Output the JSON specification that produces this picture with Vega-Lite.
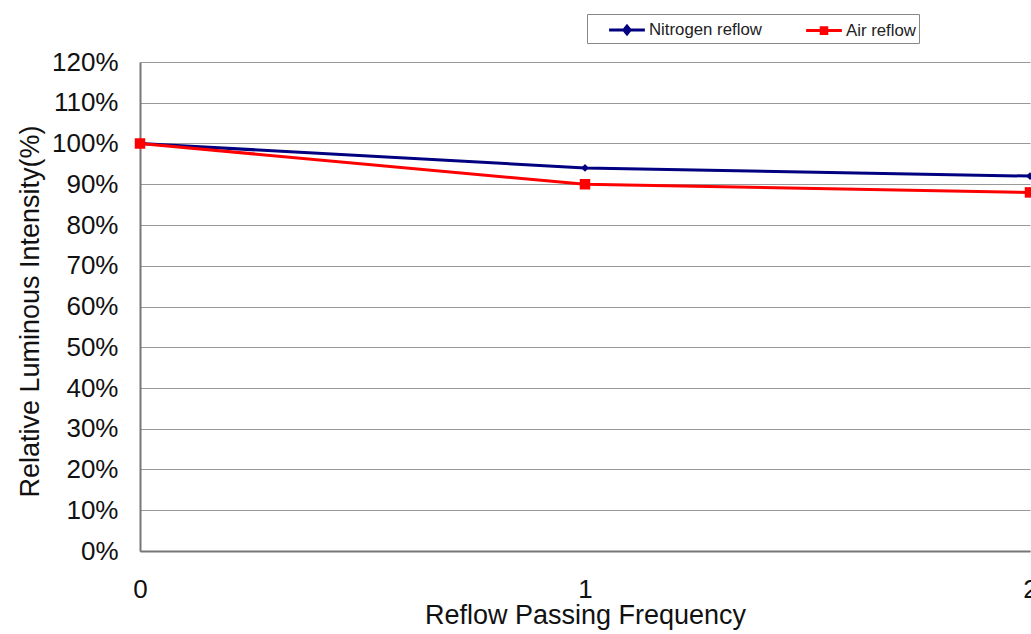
{
  "$schema": "https://vega.github.io/schema/vega-lite/v6.json",
  "autosize": {"type": "none"},
  "width": 890,
  "height": 489,
  "padding": {"left": 140, "top": 62, "right": 1, "bottom": 83},
  "background": "white",
  "data": {
    "values": [
      {"freq": 0, "value": 1.00, "series": "Nitrogen reflow"},
      {"freq": 1, "value": 0.94, "series": "Nitrogen reflow"},
      {"freq": 2, "value": 0.92, "series": "Nitrogen reflow"},
      {"freq": 0, "value": 1.00, "series": "Air reflow"},
      {"freq": 1, "value": 0.90, "series": "Air reflow"},
      {"freq": 2, "value": 0.88, "series": "Air reflow"}
    ]
  },
  "config": {
    "font": "Liberation Sans",
    "view": {"stroke": null},
    "axis": {"labelFont": "Liberation Sans", "titleFont": "Liberation Sans", "labelColor": "#111", "titleColor": "#111", "titleFontWeight": "normal"}
  },
  "encoding": {
    "x": {
      "field": "freq", "type": "ordinal",
      "scale": {"type": "point", "padding": 0, "domain": [0, 1, 2]},
      "axis": {"labelAngle": 0, "title": "Reflow Passing Frequency", "grid": false, "ticks": false,
        "labelFontSize": 26, "titleFontSize": 27, "labelPadding": 25, "titlePadding": 0,
        "domainColor": "#777", "domainWidth": 2, "labelOverlap": false}
    },
    "y": {
      "field": "value", "type": "quantitative",
      "scale": {"domain": [0, 1.2], "nice": false},
      "axis": {"values": [0, 0.1, 0.2, 0.3, 0.4, 0.5, 0.6, 0.7, 0.8, 0.9, 1.0, 1.1, 1.2], "format": ".0%",
        "title": "Relative Luminous Intensity(%)", "ticks": false, "labelFontSize": 26, "titleFontSize": 27,
        "labelPadding": 22, "titleX": -96, "titleY": 249, "gridColor": "#999", "gridWidth": 1, "gridOpacity": 1,
        "domainColor": "#777", "domainWidth": 2, "labelFlush": false}
    }
  },
  "resolve": {"legend": {"color": "independent"}},
  "layer": [
    {
      "mark": {"type": "line", "strokeWidth": 3, "clip": false},
      "encoding": {
        "color": {
          "field": "series", "type": "nominal",
          "scale": {"domain": ["Nitrogen reflow", "Air reflow"], "range": ["#000080", "#ff0000"]},
          "legend": {"title": null, "orient": "none", "legendX": 447, "legendY": -48, "direction": "horizontal",
            "symbolType": "M-1.6,0L1.6,0M0,-0.35L0.28,0L0,0.35L-0.28,0Z", "symbolStrokeWidth": 3, "symbolSize": 500,
            "symbolOffset": 24,
            "labelExpr": "datum.label == 'Air reflow' ? datum.label + '\u00a0\u00a0' : datum.label",
            "labelFontSize": 16.8, "labelColor": "#222", "strokeColor": "#888", "padding": 3, "columnPadding": 25,
            "labelOffset": 9, "fillColor": "white",
            "encode": {"symbols": {"update": {"shape": {"signal": "datum.value == 'Air reflow' ? 'M-1.6,0L1.6,0M-0.25,-0.25L0.25,-0.25L0.25,0.25L-0.25,0.25Z' : 'M-1.6,0L1.6,0M0,-0.35L0.28,0L0,0.35L-0.28,0Z'"}}}}
          }
        }
      }
    },
    {
      "mark": {"type": "point", "filled": true, "opacity": 1, "clip": false},
      "encoding": {
        "shape": {"field": "series", "type": "nominal",
          "scale": {"domain": ["Nitrogen reflow", "Air reflow"], "range": ["diamond", "square"]}, "legend": null},
        "size": {"field": "series", "type": "nominal",
          "scale": {"domain": ["Nitrogen reflow", "Air reflow"], "range": [60, 110]}, "legend": null},
        "color": {"field": "series", "type": "nominal",
          "scale": {"domain": ["Nitrogen reflow", "Air reflow"], "range": ["#000080", "#ff0000"]}, "legend": null}
      }
    }
  ]
}
